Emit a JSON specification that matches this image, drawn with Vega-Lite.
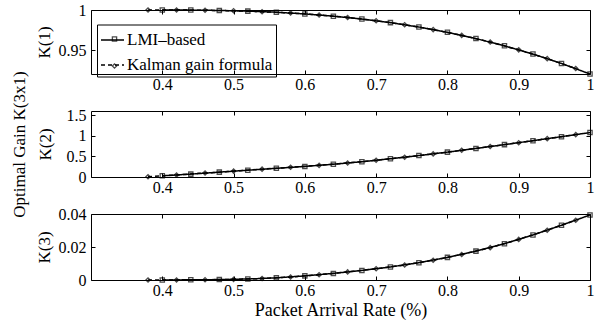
{
  "$schema": "https://vega.github.io/schema/vega-lite/v6.json",
  "padding": {"left": 9, "top": 1, "right": 13, "bottom": 5},
  "background": "white",
  "config": {
    "view": {"stroke": "black", "strokeWidth": 1},
    "axis": {
      "labelFont": "Liberation Serif", "labelFontSize": 16, "labelColor": "black",
      "titleFont": "Liberation Serif", "titleFontSize": 17, "titleFontWeight": "normal", "titleColor": "black",
      "grid": false, "domain": false, "tickColor": "black", "tickSize": -4, "tickWidth": 1,
      "labelFlush": false, "labelOverlap": false
    },
    "axisX": {"labelPadding": 6},
    "axisY": {"labelPadding": 9},
    "legend": {"labelFont": "Liberation Serif", "labelFontSize": 17, "labelColor": "black"}
  },
  "datasets": {
    "gain": [
      {"rate": 0.38, "method": "Kalman gain formula", "K1": 1.0, "K2": 0.005, "K3": 0.0},
      {"rate": 0.40, "method": "LMI–based", "K1": 1.0, "K2": 0.03, "K3": 0.00002},
      {"rate": 0.42, "method": "Kalman gain formula", "K1": 0.99995, "K2": 0.05, "K3": 0.00005},
      {"rate": 0.44, "method": "LMI–based", "K1": 0.9999, "K2": 0.07, "K3": 0.0001},
      {"rate": 0.46, "method": "Kalman gain formula", "K1": 0.9997, "K2": 0.095, "K3": 0.00015},
      {"rate": 0.48, "method": "LMI–based", "K1": 0.9994, "K2": 0.118, "K3": 0.00025},
      {"rate": 0.50, "method": "Kalman gain formula", "K1": 0.9991, "K2": 0.143, "K3": 0.0004},
      {"rate": 0.52, "method": "LMI–based", "K1": 0.9986, "K2": 0.165, "K3": 0.0006},
      {"rate": 0.54, "method": "Kalman gain formula", "K1": 0.9979, "K2": 0.19, "K3": 0.0009},
      {"rate": 0.56, "method": "LMI–based", "K1": 0.9972, "K2": 0.21, "K3": 0.0013},
      {"rate": 0.58, "method": "Kalman gain formula", "K1": 0.9962, "K2": 0.235, "K3": 0.0018},
      {"rate": 0.60, "method": "LMI–based", "K1": 0.9951, "K2": 0.257, "K3": 0.0025},
      {"rate": 0.62, "method": "Kalman gain formula", "K1": 0.9938, "K2": 0.282, "K3": 0.0032},
      {"rate": 0.64, "method": "LMI–based", "K1": 0.9923, "K2": 0.31, "K3": 0.004},
      {"rate": 0.66, "method": "Kalman gain formula", "K1": 0.9907, "K2": 0.34, "K3": 0.0049},
      {"rate": 0.68, "method": "LMI–based", "K1": 0.9887, "K2": 0.37, "K3": 0.0058},
      {"rate": 0.70, "method": "Kalman gain formula", "K1": 0.9866, "K2": 0.405, "K3": 0.0068},
      {"rate": 0.72, "method": "LMI–based", "K1": 0.9842, "K2": 0.442, "K3": 0.0079},
      {"rate": 0.74, "method": "Kalman gain formula", "K1": 0.9816, "K2": 0.48, "K3": 0.0091},
      {"rate": 0.76, "method": "LMI–based", "K1": 0.9787, "K2": 0.52, "K3": 0.0105},
      {"rate": 0.78, "method": "Kalman gain formula", "K1": 0.9755, "K2": 0.56, "K3": 0.012},
      {"rate": 0.80, "method": "LMI–based", "K1": 0.9721, "K2": 0.603, "K3": 0.0137},
      {"rate": 0.82, "method": "Kalman gain formula", "K1": 0.9683, "K2": 0.648, "K3": 0.0155},
      {"rate": 0.84, "method": "LMI–based", "K1": 0.9643, "K2": 0.692, "K3": 0.0175},
      {"rate": 0.86, "method": "Kalman gain formula", "K1": 0.9599, "K2": 0.738, "K3": 0.0196},
      {"rate": 0.88, "method": "LMI–based", "K1": 0.9552, "K2": 0.785, "K3": 0.022},
      {"rate": 0.90, "method": "Kalman gain formula", "K1": 0.9502, "K2": 0.832, "K3": 0.0246},
      {"rate": 0.92, "method": "LMI–based", "K1": 0.9449, "K2": 0.88, "K3": 0.0273},
      {"rate": 0.94, "method": "Kalman gain formula", "K1": 0.9392, "K2": 0.93, "K3": 0.0302},
      {"rate": 0.96, "method": "LMI–based", "K1": 0.9332, "K2": 0.978, "K3": 0.0332},
      {"rate": 0.98, "method": "Kalman gain formula", "K1": 0.9268, "K2": 1.028, "K3": 0.0362},
      {"rate": 1.00, "method": "LMI–based", "K1": 0.92, "K2": 1.077, "K3": 0.0394}
    ]
  },
  "data": {"name": "gain"},
  "bounds": "flush",
  "spacing": 37,
  "resolve": {"legend": {"shape": "independent", "strokeDash": "independent"}},
  "vconcat": [
    {
      "width": 499, "height": 64,
      "resolve": {"axis": {"x": "independent", "y": "independent"}},
      "layer": [
        {
          "mark": {"type": "line", "color": "black", "strokeWidth": 1.5},
          "encoding": {
            "x": {"field": "rate", "type": "quantitative", "scale": {"domain": [0.3, 1]}, "axis": {"orient": "bottom", "values": [0.4, 0.5, 0.6, 0.7, 0.8, 0.9, 1], "format": "~g", "title": null}},
            "y": {"field": "K1", "type": "quantitative", "scale": {"domain": [0.92, 1], "zero": false}, "axis": {"orient": "left", "values": [0.95, 1], "format": "~g", "title": "K(1)", "titleX": -38}},
            "strokeDash": {"field": "method", "type": "nominal", "scale": {"domain": ["LMI–based", "Kalman gain formula"], "range": [[1, 0], [4, 3]]},
              "legend": {"title": null, "orient": "none", "legendX": 6, "legendY": 14.5, "strokeColor": "black", "padding": 3, "symbolType": "stroke", "symbolStrokeColor": "black", "symbolSize": 529, "symbolStrokeWidth": 1.5, "rowPadding": 4, "labelOffset": 2}}
          }
        },
        {
          "mark": {"type": "point", "color": "black", "filled": false, "size": 18, "strokeWidth": 1.3},
          "encoding": {
            "x": {"field": "rate", "type": "quantitative", "axis": {"orient": "top", "values": [0.4, 0.5, 0.6, 0.7, 0.8, 0.9, 1], "labels": false, "title": null}},
            "y": {"field": "K1", "type": "quantitative", "axis": {"orient": "right", "values": [0.95, 1], "labels": false, "title": null}},
            "shape": {"field": "method", "type": "nominal", "scale": {"domain": ["LMI–based", "Kalman gain formula"], "range": ["square", "diamond"]},
              "legend": {"title": null, "orient": "top-left", "offset": 6, "padding": 14.5, "symbolOffset": -5.5, "labelExpr": "' '", "symbolStrokeColor": "black", "symbolFillColor": "white", "symbolSize": 18, "symbolStrokeWidth": 1.3, "rowPadding": 9}}
          }
        }
      ]
    },
    {
      "width": 499, "height": 66,
      "resolve": {"axis": {"x": "independent", "y": "independent"}},
      "layer": [
        {
          "mark": {"type": "line", "color": "black", "strokeWidth": 1.5},
          "encoding": {
            "x": {"field": "rate", "type": "quantitative", "scale": {"domain": [0.3, 1]}, "axis": {"orient": "bottom", "values": [0.4, 0.5, 0.6, 0.7, 0.8, 0.9, 1], "format": "~g", "title": null}},
            "y": {"field": "K2", "type": "quantitative", "scale": {"domain": [0, 1.5]}, "axis": {"orient": "left", "values": [0, 0.5, 1, 1.5], "format": "~g", "title": ["Optimal Gain K(3x1)", "K(2)"], "titleX": -63, "titleLineHeight": 26}},
            "strokeDash": {"field": "method", "type": "nominal", "legend": null}
          }
        },
        {
          "mark": {"type": "point", "color": "black", "filled": false, "size": 18, "strokeWidth": 1.3},
          "encoding": {
            "x": {"field": "rate", "type": "quantitative", "axis": {"orient": "top", "values": [0.4, 0.5, 0.6, 0.7, 0.8, 0.9, 1], "labels": false, "title": null}},
            "y": {"field": "K2", "type": "quantitative", "axis": {"orient": "right", "values": [0, 0.5, 1, 1.5], "labels": false, "title": null}},
            "shape": {"field": "method", "type": "nominal", "legend": null}
          }
        }
      ]
    },
    {
      "width": 499, "height": 66,
      "resolve": {"axis": {"x": "independent", "y": "independent"}},
      "layer": [
        {
          "mark": {"type": "line", "color": "black", "strokeWidth": 1.5},
          "encoding": {
            "x": {"field": "rate", "type": "quantitative", "scale": {"domain": [0.3, 1]}, "axis": {"orient": "bottom", "values": [0.4, 0.5, 0.6, 0.7, 0.8, 0.9, 1], "format": "~g", "title": "Packet Arrival Rate (%)", "titlePadding": 3, "titleFontSize": 18}},
            "y": {"field": "K3", "type": "quantitative", "scale": {"domain": [0, 0.04]}, "axis": {"orient": "left", "values": [0, 0.02, 0.04], "format": "~g", "title": "K(3)", "titleX": -38}},
            "strokeDash": {"field": "method", "type": "nominal", "legend": null}
          }
        },
        {
          "mark": {"type": "point", "color": "black", "filled": false, "size": 18, "strokeWidth": 1.3},
          "encoding": {
            "x": {"field": "rate", "type": "quantitative", "axis": {"orient": "top", "values": [0.4, 0.5, 0.6, 0.7, 0.8, 0.9, 1], "labels": false, "title": null}},
            "y": {"field": "K3", "type": "quantitative", "axis": {"orient": "right", "values": [0, 0.02, 0.04], "labels": false, "title": null}},
            "shape": {"field": "method", "type": "nominal", "legend": null}
          }
        }
      ]
    }
  ]
}
